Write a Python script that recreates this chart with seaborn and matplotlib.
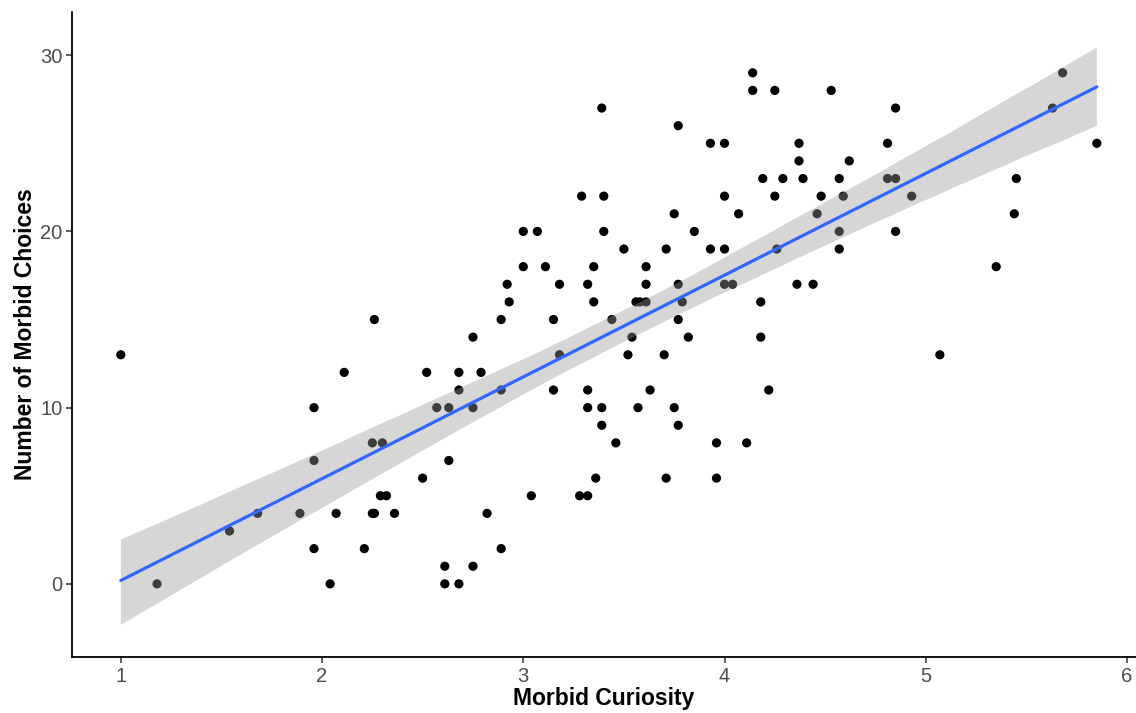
import numpy as np
import pandas as pd
import matplotlib
matplotlib.use("Agg")
import matplotlib.pyplot as plt
import seaborn as sns

# Data (Morbid Curiosity vs Number of Morbid Choices)
choices_0 = [1.18, 2.04, 2.61, 2.68]
choices_1 = [2.61, 2.75]
choices_2 = [1.96, 2.21, 2.89]
choices_3 = [1.54]
choices_4 = [1.68, 1.89, 2.07, 2.25, 2.26, 2.36, 2.82]
choices_5 = [2.29, 2.32, 3.04, 3.28, 3.32]
choices_6 = [2.50, 3.36, 3.71, 3.96]
choices_7 = [1.96, 2.63]
choices_8 = [2.25, 2.30, 3.46, 3.96, 4.11]
choices_9 = [3.39, 3.77]
choices_10 = [1.96, 2.57, 2.63, 2.75, 3.32, 3.39, 3.57, 3.75]
choices_11 = [2.68, 2.89, 3.15, 3.32, 3.63, 4.22]
choices_12 = [2.11, 2.52, 2.68, 2.79]
choices_13 = [1.0, 3.18, 3.52, 3.70, 5.07]
choices_14 = [2.75, 3.54, 3.82, 4.18]
choices_15 = [2.26, 2.89, 3.15, 3.44, 3.77]
choices_16 = [2.93, 3.35, 3.56, 3.58, 3.61, 3.79, 4.18]
choices_17 = [2.92, 3.18, 3.32, 3.61, 3.77, 4.00, 4.04, 4.36, 4.44]
choices_18 = [3.00, 3.11, 3.35, 3.61, 5.35]
choices_19 = [3.50, 3.71, 3.93, 4.00, 4.26, 4.57]
choices_20 = [3.00, 3.07, 3.40, 3.85, 4.57, 4.85]
choices_21 = [3.75, 4.07, 4.46, 5.44]
choices_22 = [3.29, 3.40, 4.00, 4.25, 4.48, 4.59, 4.93]
choices_23 = [4.19, 4.29, 4.39, 4.57, 4.81, 4.85, 5.45]
choices_24 = [4.37, 4.62]
choices_25 = [3.93, 4.00, 4.37, 4.81, 5.85]
choices_26 = [3.77]
choices_27 = [3.39, 4.85, 5.63]
choices_28 = [4.14, 4.25, 4.53]
choices_29 = [4.14, 5.68]

curiosity_by_choice = [
    choices_0, choices_1, choices_2, choices_3, choices_4, choices_5,
    choices_6, choices_7, choices_8, choices_9, choices_10, choices_11,
    choices_12, choices_13, choices_14, choices_15, choices_16, choices_17,
    choices_18, choices_19, choices_20, choices_21, choices_22, choices_23,
    choices_24, choices_25, choices_26, choices_27, choices_28, choices_29,
]

x_ticks = [1, 2, 3, 4, 5, 6]
y_ticks = [0, 10, 20, 30]

rows = []
for n_choices, xs in enumerate(curiosity_by_choice):
    for xv in xs:
        rows.append({"Morbid Curiosity": xv, "Number of Morbid Choices": n_choices})
df = pd.DataFrame(rows)

sns.set_style("white")
plt.rcParams["font.family"] = ["Liberation Sans", "DejaVu Sans"]

fig = plt.figure(figsize=(11.36, 7.13), dpi=100)
ax = fig.add_axes([72 / 1136, 56 / 713, 1064 / 1136, 645 / 713])

sns.scatterplot(data=df, x="Morbid Curiosity", y="Number of Morbid Choices",
                color="black", s=44, edgecolor="none", ax=ax, zorder=1)
sns.regplot(data=df, x="Morbid Curiosity", y="Number of Morbid Choices",
            scatter=False, ci=95, n_boot=2000, seed=3, color="#999999",
            line_kws={"color": "#3366FF", "linewidth": 2.3, "zorder": 3},
            ax=ax)
for coll in ax.collections[1:]:
    coll.set_facecolor("#999999")
    coll.set_alpha(0.4)
    coll.set_edgecolor("none")
    coll.set_zorder(2)

ax.set_xlim(0.7575, 1 + (1136 - 120) / 201.4)
ax.set_ylim(-4.15, 32.45)
ax.set_xticks(x_ticks)
ax.set_yticks(y_ticks)

for side in ["top", "right"]:
    ax.spines[side].set_visible(False)
for side in ["left", "bottom"]:
    ax.spines[side].set_color("black")
    ax.spines[side].set_linewidth(1.3)

ax.tick_params(axis="both", which="major", bottom=True, left=True,
               length=4, width=1.1, color="#333333",
               labelsize=14.5, labelcolor="#4D4D4D", direction="out", pad=3)
ax.set_xlabel("Morbid Curiosity", fontsize=16.5, fontweight="bold", color="black", labelpad=1)
ax.set_ylabel("Number of Morbid Choices", fontsize=16.5, fontweight="bold", color="black", labelpad=2)
ax.grid(False)

fig.savefig("out.png", dpi=100)
